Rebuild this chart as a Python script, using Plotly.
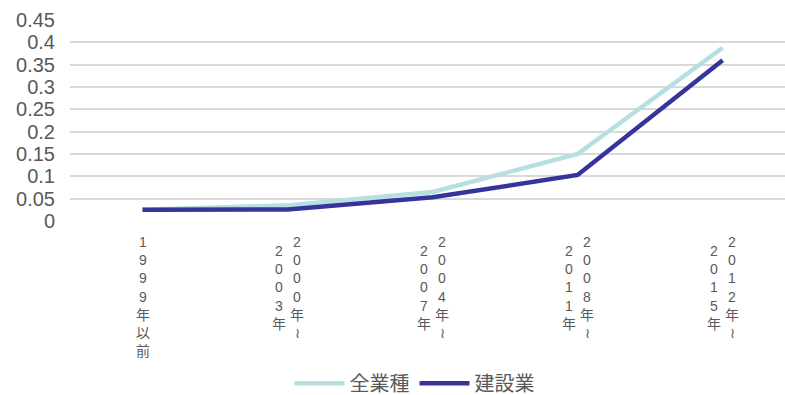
import plotly.graph_objects as go

# Periods (category axis) and the two series
periods = ["1999年以前", "2000年~2003年", "2004年~2007年", "2008年~2011年", "2012年~2015年"]
# Vertical label columns: right column read first, then left column
label_right = ["1999年以前", "2000年≀", "2004年≀", "2008年≀", "2012年≀"]
label_left = ["", "2003年", "2007年", "2011年", "2015年"]

all_industries = [0.025, 0.035, 0.065, 0.150, 0.388]
construction = [0.025, 0.026, 0.053, 0.103, 0.360]

y_ticks = [0, 0.05, 0.1, 0.15, 0.2, 0.25, 0.3, 0.35, 0.4, 0.45]

FONT = "Liberation Sans, Arial, Noto Sans CJK JP, sans-serif"
GREY = "#595959"

x_idx = list(range(len(periods)))

fig = go.Figure()
fig.add_trace(go.Scatter(
    x=x_idx, y=all_industries, mode="lines", name="全業種",
    line=dict(color="#B5DFE1", width=4.5),
))
fig.add_trace(go.Scatter(
    x=x_idx, y=construction, mode="lines", name="建設業",
    line=dict(color="#34349A", width=4.5),
))


def stacked(text):
    # one character per line to mimic vertical writing
    return "<br>".join(list(text))


annotations = []
for i in x_idx:
    if label_left[i] == "":
        annotations.append(dict(
            x=i, y=0, xref="x", yref="y", text=stacked(label_right[i]),
            showarrow=False, xanchor="center", yanchor="top", yshift=-11,
            font=dict(family=FONT, size=14, color=GREY), align="center",
        ))
    else:
        annotations.append(dict(
            x=i, y=0, xref="x", yref="y", text=stacked(label_right[i]),
            showarrow=False, xanchor="center", yanchor="top", yshift=-11, xshift=9,
            font=dict(family=FONT, size=14, color=GREY), align="center",
        ))
        annotations.append(dict(
            x=i, y=0, xref="x", yref="y", text=stacked(label_left[i]),
            showarrow=False, xanchor="center", yanchor="top", yshift=-20, xshift=-9,
            font=dict(family=FONT, size=14, color=GREY), align="center",
        ))

fig.update_layout(
    width=785, height=395,
    margin=dict(l=70, r=0, t=20, b=174, autoexpand=False),
    paper_bgcolor="white", plot_bgcolor="white",
    font=dict(family=FONT, color=GREY),
    xaxis=dict(
        range=[-0.5, 4.43], showticklabels=False, showgrid=False,
        zeroline=False, showline=False, fixedrange=True,
    ),
    yaxis=dict(
        range=[0, 0.45], tickvals=y_ticks,
        ticktext=[f"{v:g}" for v in y_ticks],
        showgrid=True, gridcolor="#D9D9D9", gridwidth=1.5,
        zeroline=False, showline=False,
        tickfont=dict(family=FONT, size=20, color=GREY),
        ticks="", ticklabelstandoff=14,
    ),
    legend=dict(
        orientation="h", xref="container", yref="container",
        x=0.528, xanchor="center", y=0.03, yanchor="middle",
        font=dict(family=FONT, size=20, color=GREY),
        itemwidth=50, tracegroupgap=0,
    ),
    annotations=annotations,
    showlegend=True,
)

fig.write_html("out.html")
